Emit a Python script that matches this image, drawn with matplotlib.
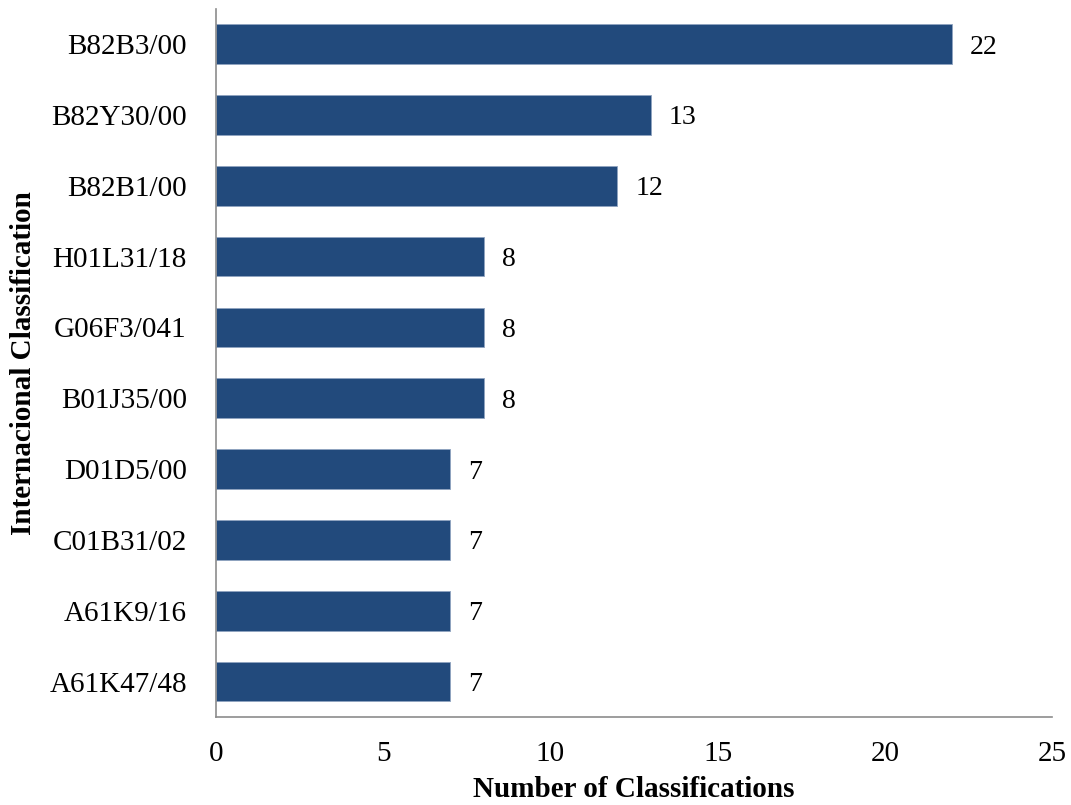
import numpy as np
import matplotlib.pyplot as plt

categories = ["B82B3/00", "B82Y30/00", "B82B1/00", "H01L31/18", "G06F3/041",
              "B01J35/00", "D01D5/00", "C01B31/02", "A61K9/16", "A61K47/48"]
counts = [22, 13, 12, 8, 8, 8, 7, 7, 7, 7]
xticks = [0, 5, 10, 15, 20, 25]

plt.rcParams["font.family"] = ["Liberation Serif", "DejaVu Serif"]

fig = plt.figure(figsize=(10.71, 8.05), dpi=100)
ax = fig.add_axes([0.2017, 0.1093, 0.7806, 0.880])

y = np.arange(len(categories))
bars = ax.barh(y, counts, height=0.56, color="#224a7c", edgecolor="#8fa3c0", linewidth=0.6)
for yi, v in zip(y, counts):
    ax.annotate(str(v), (v, yi), xytext=(13, 0), textcoords="offset points",
                va="center_baseline", ha="left", fontsize=20)

ax.set_ylim(len(categories) - 0.5, -0.5)
ax.set_xlim(0, 25)
ax.set_xticks(xticks)
ax.set_yticks(y)
ax.set_yticklabels(categories)
ax.tick_params(axis="both", length=0, labelsize=21)
ax.tick_params(axis="y", pad=21)
ax.tick_params(axis="x", pad=17)
for s in ["top", "right"]:
    ax.spines[s].set_visible(False)
for s in ["left", "bottom"]:
    ax.spines[s].set_color("#8c8c8c")
    ax.spines[s].set_linewidth(1.2)

ax.set_xlabel("Number of Classifications", fontsize=21, fontweight="bold", labelpad=7)
ax.set_ylabel("Internacional Classification", fontsize=21, fontweight="bold", labelpad=9)

fig.savefig("out.png", dpi=100)
